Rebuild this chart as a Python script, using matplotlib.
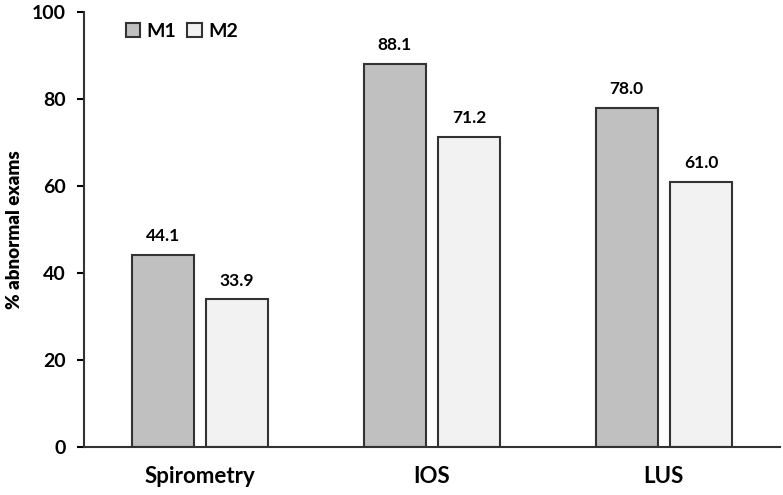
import numpy as np
import matplotlib.pyplot as plt

categories = ['Spirometry', 'IOS', 'LUS']
m1 = [44.1, 88.1, 78.0]
m2 = [33.9, 71.2, 61.0]
yticks = [0, 20, 40, 60, 80, 100]

plt.rcParams['font.family'] = ['Lato', 'DejaVu Sans']
plt.rcParams['font.weight'] = 'bold'

fig = plt.figure(figsize=(7.83, 4.95), dpi=100)
ax = fig.add_axes([0.107, 0.097, 0.889, 0.879])

x = np.arange(len(categories))
w = 0.267
off = 0.16
b1 = ax.bar(x - off, m1, w, color='#c0c0c0', edgecolor='#333333', linewidth=1.5, label='M1')
b2 = ax.bar(x + off, m2, w, color='#f2f2f2', edgecolor='#333333', linewidth=1.5, label='M2')

for bars, vals in ((b1, m1), (b2, m2)):
    for b, v in zip(bars, vals):
        ax.text(b.get_x() + b.get_width() / 2, v + 2.5, f'{v:.1f}', ha='center', va='bottom',
                fontsize=12.5, fontweight='bold')

ax.set_xlim(-0.5, 2.5)
ax.set_ylim(0, 100)
ax.set_yticks(yticks)
ax.set_xticks(x)
ax.set_xticklabels(categories, fontsize=16, fontweight='bold')
ax.tick_params(axis='x', length=0, pad=14)
ax.tick_params(axis='y', labelsize=14, length=5, width=1.5, direction='out', pad=8)
ax.set_ylabel('% abnormal exams', fontsize=13.5, fontweight='heavy', labelpad=6)
for s in ('top', 'right'):
    ax.spines[s].set_visible(False)
for s in ('left', 'bottom'):
    ax.spines[s].set_linewidth(1.5)
    ax.spines[s].set_color('#333333')

ax.legend(loc='upper left', bbox_to_anchor=(0.035, 1.015), ncol=2, frameon=False, fontsize=14,
          handlelength=0.75, handleheight=0.75, handletextpad=0.3, columnspacing=0.6)

fig.savefig('out.png', dpi=100)
